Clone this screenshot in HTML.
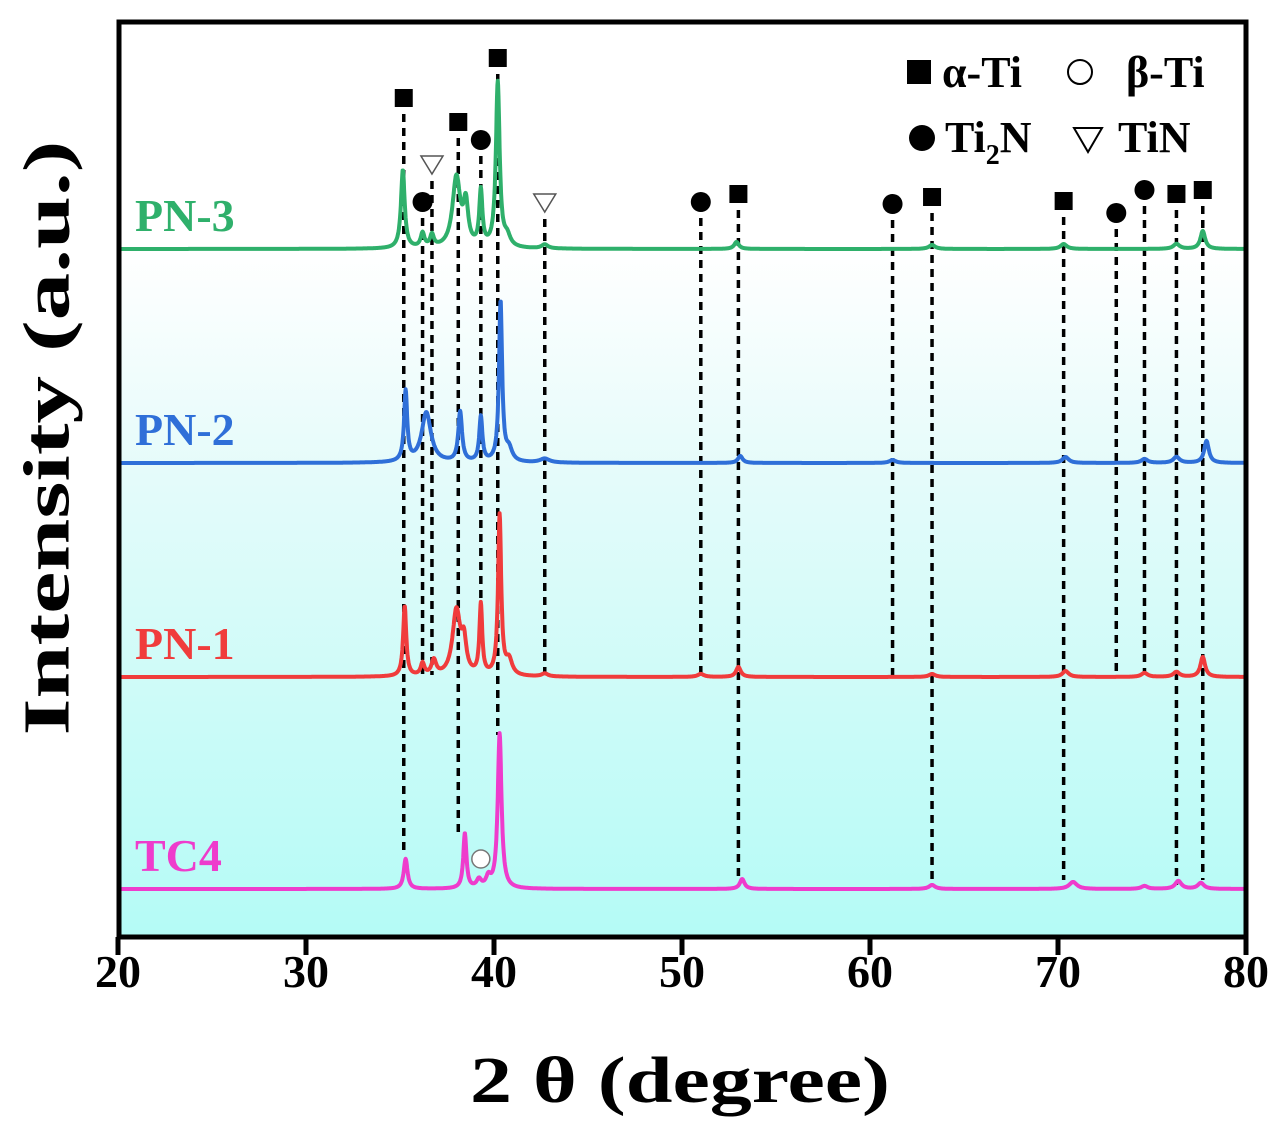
<!DOCTYPE html>
<html><head><meta charset="utf-8"><style>
html,body{margin:0;padding:0;background:#fff;}
svg{display:block;font-family:"Liberation Serif",serif;font-weight:bold;}
</style></head><body>
<svg id="chart" width="1282" height="1135" viewBox="0 0 1282 1135">
<defs>
<linearGradient id="bg" x1="0" y1="0" x2="0" y2="1">
<stop offset="0" stop-color="#ffffff"/>
<stop offset="0.25" stop-color="#ffffff"/>
<stop offset="0.5" stop-color="#e4fbfa"/>
<stop offset="1" stop-color="#b4fbf6"/>
</linearGradient>
</defs>
<rect x="119" y="22" width="1127" height="915" fill="url(#bg)"/>
<g id="dashes"></g>
<g id="traces"></g>
<g id="markers"></g>
<rect x="119" y="22" width="1127" height="915" fill="none" stroke="#000" stroke-width="5"/>
<g id="xaxis"></g>
<text x="47" y="438" transform="rotate(-90 47 438)" text-anchor="middle" font-size="66" textLength="595" lengthAdjust="spacingAndGlyphs" dominant-baseline="central">Intensity (a.u.)</text>
<text x="680" y="1102" text-anchor="middle" font-size="66" textLength="420" lengthAdjust="spacingAndGlyphs">2 θ (degree)</text>
<g>
<rect x="907" y="60" width="24" height="24" fill="#000"/>
<text x="942" y="87" font-size="44">α-Ti</text>
<circle cx="1080" cy="72" r="12" fill="#fff" stroke="#000" stroke-width="2"/>
<text x="1126" y="87" font-size="44">β-Ti</text>
<circle cx="922" cy="138" r="13" fill="#000"/>
<text x="945" y="152" font-size="44">Ti<tspan font-size="28" dy="12">2</tspan><tspan dy="-12">N</tspan></text>
<polygon points="1074,128 1102,128 1088,152" fill="#fff" stroke="#000" stroke-width="2"/>
<text x="1118" y="152" font-size="44">TiN</text>
</g>
</svg>
<script>
const xTicks=[20,30,40,50,60,70,80];
const sampleNames=["PN-3","PN-2","PN-1","TC4"];
const sampleColors=["#2fb06b","#2f6fd8","#f03c3c","#ee3ccc"];
const baselines=[249,463,677,889];
// peaks per sample: [2theta, height(px), halfwidth(deg)]
const peaksPN3=[[35.15,78,0.12],[36.2,14,0.12],[36.7,12,0.12],[38.0,70,0.25],[38.5,40,0.15],[39.3,55,0.1],[40.2,165,0.12],[40.7,10,0.2],[42.7,4,0.2],[52.9,7,0.15],[63.3,4,0.2],[70.3,5,0.2],[76.3,5,0.2],[77.7,18,0.15]];
const peaksPN2=[[35.3,70,0.1],[36.4,50,0.3],[38.2,50,0.12],[39.3,45,0.1],[40.35,160,0.1],[40.8,12,0.2],[42.7,4,0.3],[53.1,7,0.15],[61.2,3,0.2],[70.4,6,0.2],[74.6,4,0.2],[76.3,6,0.2],[77.9,22,0.15]];
const peaksPN1=[[35.25,70,0.1],[36.2,12,0.12],[36.8,15,0.15],[38.0,65,0.25],[38.4,30,0.15],[39.3,70,0.09],[40.3,160,0.1],[40.8,15,0.2],[42.7,3,0.2],[51.0,3,0.2],[53.0,10,0.15],[63.3,3,0.2],[70.4,6,0.2],[74.6,4,0.2],[76.3,5,0.2],[77.7,20,0.15]];
const peaksTC4=[[35.3,30,0.12],[38.45,55,0.1],[39.2,8,0.15],[39.7,10,0.15],[40.3,155,0.12],[53.2,10,0.15],[63.3,4,0.2],[70.8,7,0.25],[74.6,3,0.2],[76.4,8,0.2],[77.6,6,0.2]];
const allPeaks=[peaksPN3,peaksPN2,peaksPN1,peaksTC4];
// markers: [2theta, y-level, dashed-line end]
const alphaTi=[[35.2,98,850],[38.1,122,835],[40.2,58,735],[53.0,194,880],[63.3,197,885],[70.3,201,880],[76.3,194,885],[77.7,190,880]];
const ti2N=[[36.2,202,675],[39.3,140,610],[51.0,202,675],[61.2,204,675],[73.1,213,675],[74.6,190,675]];
const tiN=[[36.7,165,675],[42.7,203,675]];
const betaTi=[[39.3,859]];

const NS="http://www.w3.org/2000/svg";
const X0=118,X1=1246;
function xs(t){return X0+(t-20)/60*(X1-X0);}
function mk(tag,attrs,parent){const e=document.createElementNS(NS,tag);for(const k in attrs)e.setAttribute(k,attrs[k]);parent.appendChild(e);return e;}
const gx=document.getElementById('xaxis');
xTicks.forEach(t=>{
 const l=mk('line',{x1:xs(t),x2:xs(t),y1:937,y2:955,stroke:'#000','stroke-width':5},gx);
 
 
 const tx=mk('text',{x:xs(t),y:987,'text-anchor':'middle','font-size':46},gx);
 tx.textContent=t;
 
 
});
const gd=document.getElementById('dashes');
[...alphaTi,...ti2N,...tiN].forEach(m=>{
 const l=mk('line',{x1:xs(m[0]),x2:xs(m[0]),y1:m[1]+16,y2:m[2],stroke:'#000','stroke-width':3.5,'stroke-dasharray':'8 6'},gd);
 
 
});
const gt=document.getElementById('traces');
allPeaks.forEach((pk,i)=>{
 let d='';
 for(let t=20;t<=80.001;t+=0.02){
  let h=0;pk.forEach(p=>{const u=(t-p[0])/p[2];h+=p[1]/(1+u*u);});
  d+=(d?'L':'M')+xs(t).toFixed(1)+','+(baselines[i]-h).toFixed(1);
 }
 const p=mk('path',{d:d,fill:'none',stroke:sampleColors[i],'stroke-width':4,'stroke-linejoin':'round'},gt);
 
 
 const tx=mk('text',{x:135,y:baselines[i]-18,'font-size':46,fill:sampleColors[i]},gt);
 tx.textContent=sampleNames[i];
 
 
});
const gm=document.getElementById('markers');
alphaTi.forEach(m=>{const e=mk('rect',{x:xs(m[0])-9,y:m[1]-9,width:18,height:18,fill:'#000'},gm);
 
 });
ti2N.forEach(m=>{const e=mk('circle',{cx:xs(m[0]),cy:m[1],r:10,fill:'#000'},gm);
 
 });
tiN.forEach(m=>{const x=xs(m[0]),y=m[1];const e=mk('polygon',{points:`${x-11},${y-9} ${x+11},${y-9} ${x},${y+9}`,fill:'#fff',stroke:'#555','stroke-width':1.5},gm);
 
 });
betaTi.forEach(m=>{const e=mk('circle',{cx:xs(m[0]),cy:m[1],r:9,fill:'#fff',stroke:'#777','stroke-width':1.5},gm);
 
 });
</script>
</body></html>
